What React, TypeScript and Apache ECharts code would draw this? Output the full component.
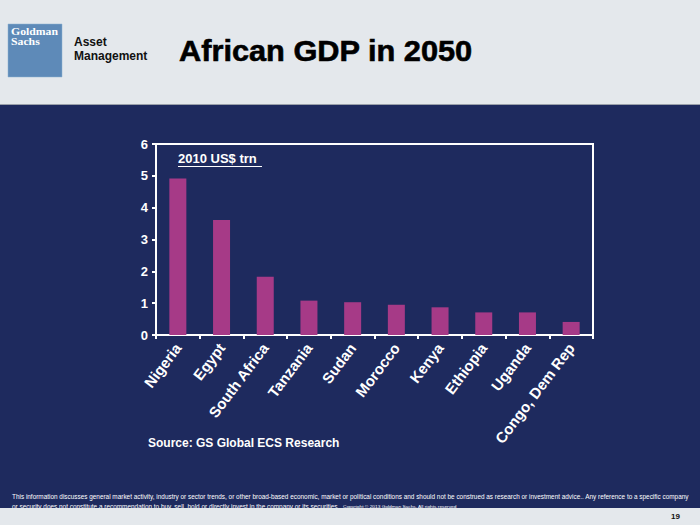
import React, { useEffect, useRef } from "react";
import * as echarts from "echarts";

const categories = ["Nigeria", "Egypt", "South Africa", "Tanzania", "Sudan", "Morocco", "Kenya", "Ethiopia", "Uganda", "Congo, Dem Rep"];
const gdp2050 = [4.92, 3.61, 1.83, 1.08, 1.03, 0.95, 0.87, 0.71, 0.71, 0.41];
const yTicks = [0, 1, 2, 3, 4, 5, 6];

const titleText = "African GDP in 2050";
const unitText = "2010 US$ trn";
const sourceText = "Source: GS Global ECS Research";
const footer1 = "This information discusses general market activity, industry or sector trends, or other broad-based economic, market or political conditions and should not be construed as research or investment advice.. Any reference to a specific company";
const footer2 = "or security does not constitute a recommendation to buy, sell, hold or directly invest in the company or its securities.";
const copyright = "Copyright © 2013 Goldman Sachs. All rights reserved";

function measure(text: string, font: string): number {
  const c = document.createElement("canvas");
  const ctx = c.getContext("2d");
  if (!ctx) return text.length * 3;
  ctx.font = font;
  return ctx.measureText(text).width;
}

export default function App() {
  const ref = useRef<HTMLDivElement>(null);
  useEffect(() => {
    document.body.style.margin = "0";
    const chart = echarts.init(ref.current!, null, { renderer: "svg" });
    const navy = "#1e2a5e";
    const white = "#ffffff";
    const footFont = "7px 'Liberation Sans', Arial, sans-serif";
    const copyFont = "4px 'Liberation Sans', Arial, sans-serif";
    const titleFont = "bold 30px 'Liberation Sans', Arial, sans-serif";
    const gsFont = "bold 11px 'Liberation Serif', serif";
    const s1 = 678 / measure(footer1, footFont);
    const s2 = 328 / measure(footer2, footFont);
    const s3 = 114 / measure(copyright, copyFont);
    const sT = 294 / measure(titleText, titleFont);
    const sG = 47 / measure("Goldman", gsFont);
    chart.setOption({
      animation: false,
      backgroundColor: "#e4e8ec",
      graphic: [
        { type: "rect", z: -10, shape: { x: 0, y: 104, width: 700, height: 1.5 }, style: { fill: "#9aa0aa" } },
        { type: "rect", z: -10, shape: { x: 0, y: 105, width: 700, height: 403 }, style: { fill: navy } },
        { type: "rect", shape: { x: 8, y: 24, width: 54, height: 53 }, style: { fill: "#5e8ab8", stroke: "#8fb0d2", lineWidth: 0.5 } },
        { type: "text", x: 11, y: 26, scaleX: sG, style: { text: "Goldman", fill: white, font: gsFont } },
        { type: "text", x: 11, y: 36, scaleX: sG, style: { text: "Sachs", fill: white, font: gsFont } },
        { type: "text", x: 74, y: 36, style: { text: "Asset", fill: "#111", font: "bold 12px 'Liberation Sans', Arial, sans-serif" } },
        { type: "text", x: 74, y: 50, style: { text: "Management", fill: "#111", font: "bold 12px 'Liberation Sans', Arial, sans-serif" } },
        { type: "text", x: 179, y: 51, scaleX: sT, style: { text: titleText, fill: "#000", stroke: "#000", lineWidth: 0.6, font: titleFont, verticalAlign: "middle" } },
        { type: "text", x: 178, y: 152, style: { text: unitText, fill: white, font: "bold 13px 'Liberation Sans', Arial, sans-serif" } },
        { type: "line", shape: { x1: 178, y1: 166.5, x2: 262, y2: 166.5 }, style: { stroke: white, lineWidth: 1 } },
        { type: "text", x: 148, y: 437, style: { text: sourceText, fill: white, font: "bold 12px 'Liberation Sans', Arial, sans-serif" } },
        { type: "text", x: 12, y: 493, scaleX: s1, style: { text: footer1, fill: white, font: footFont } },
        { type: "text", x: 12, y: 503, scaleX: s2, style: { text: footer2, fill: white, font: footFont } },
        { type: "text", x: 343, y: 505, scaleX: s3, style: { text: copyright, fill: white, font: copyFont } },
        { type: "rect", z: 50, shape: { x: 0, y: 508, width: 700, height: 17 }, style: { fill: "#e4e8ec" } },
        { type: "text", z: 51, x: 671, y: 512, style: { text: "19", fill: "#111", font: "bold 8px 'Liberation Sans', Arial, sans-serif" } },
      ],
      grid: { left: 156, right: 107, top: 144, bottom: 190, show: true, borderColor: white, borderWidth: 2, backgroundColor: "transparent" },
      xAxis: {
        type: "category",
        data: categories,
        axisLine: { lineStyle: { color: white, width: 2 } },
        axisTick: { show: true, length: 4, lineStyle: { color: white, width: 2 } },
        axisLabel: { color: white, rotate: 53, fontWeight: "bold", fontSize: 15, fontFamily: "'Liberation Sans', Arial, sans-serif", margin: 10, interval: 0 },
      },
      yAxis: {
        type: "value",
        min: 0, max: 6, interval: 1,
        axisLine: { show: true, lineStyle: { color: white, width: 2 } },
        axisTick: { show: true, length: 4, lineStyle: { color: white, width: 2 } },
        splitLine: { show: false },
        axisLabel: { color: white, fontWeight: "bold", fontSize: 13, fontFamily: "'Liberation Sans', Arial, sans-serif", margin: 8, formatter: (v: number) => (yTicks.includes(v) ? String(v) : "") },
      },
      series: [
        { type: "bar", data: gdp2050, barWidth: 17, itemStyle: { color: "#a63a87" } },
      ],
    });
    return () => chart.dispose();
  }, []);
  return <div ref={ref} style={{ width: 700, height: 525 }} />;
}
